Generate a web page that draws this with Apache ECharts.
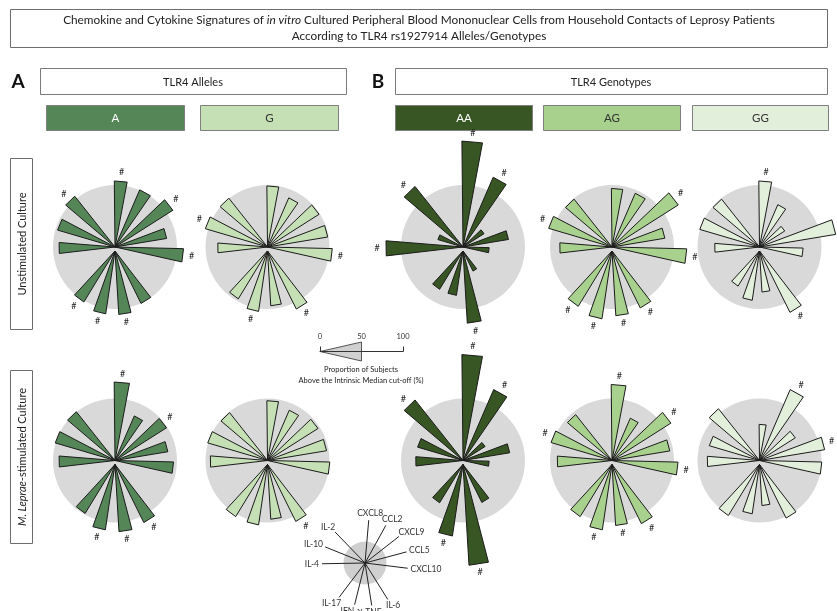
<!DOCTYPE html>
<html>
<head>
<meta charset="utf-8">
<script src="https://cdn.jsdelivr.net/npm/echarts@6/dist/echarts.min.js"></script>
<style>
  html, body { margin: 0; padding: 0; background: #ffffff; }
  #chart { width: 837px; height: 611px; }
</style>
</head>
<body>
<div id="chart"></div>
<script>
// Chemokines (upper-right) and cytokines (lower / left), clockwise from the top
const markers = ['CXCL8', 'CCL2', 'CXCL9', 'CCL5', 'CXCL10', 'IL-6', 'TNF', 'IFN-γ', 'IL-17', 'IL-4', 'IL-10', 'IL-2'];
const markerAngles = [5, 29, 52, 75, 97, 148, 171, 194, 217, 269, 292, 316];
const lowerGroup = ['IL-6', 'TNF', 'IFN-γ', 'IL-17'];

// Proportion of subjects above the intrinsic median cut-off (%)
const unstimA  = [53, 50, 55, 42, 55, 47, 51, 51, 48, 45, 48, 52];
const unstimG  = [49, 43, 49, 49, 52, 52, 44, 49, 45, 40, 52, 50];
const unstimAA = [85, 61, 20, 37, 21, 18, 58, 36, 36, 62, 21, 62];
const unstimAG = [47, 47, 63, 43, 60, 51, 52, 55, 52, 42, 53, 49];
const unstimGG = [53, 37, 24, 62, 35, 55, 33, 40, 33, 36, 50, 49];
const stimA    = [63, 39, 49, 43, 47, 52, 54, 53, 46, 45, 50, 50];
const stimG    = [48, 44, 48, 48, 50, 51, 44, 49, 49, 46, 50, 49];
const stimAA   = [85, 62, 21, 38, 21, 34, 81, 58, 36, 38, 38, 62];
const stimAG   = [61, 37, 56, 47, 53, 53, 49, 53, 49, 44, 51, 47];
const stimGG   = [29, 62, 34, 53, 50, 48, 33, 40, 48, 42, 42, 53];

// Significance flags (#), one per marker
const unstimAFlag  = [1, 0, 1, 0, 1, 0, 1, 1, 1, 0, 0, 1];
const unstimGFlag  = [0, 0, 0, 0, 1, 1, 0, 1, 0, 0, 1, 0];
const unstimAAFlag = [1, 1, 0, 0, 0, 0, 1, 0, 0, 1, 0, 1];
const unstimAGFlag = [0, 0, 1, 0, 1, 1, 1, 1, 1, 0, 1, 0];
const unstimGGFlag = [1, 0, 0, 0, 0, 1, 0, 0, 0, 0, 0, 0];
const stimAFlag    = [1, 0, 1, 0, 0, 1, 1, 1, 0, 0, 0, 0];
const stimGFlag    = [0, 0, 0, 0, 0, 1, 0, 0, 0, 0, 0, 0];
const stimAAFlag   = [1, 1, 0, 0, 0, 0, 1, 1, 0, 0, 0, 1];
const stimAGFlag   = [1, 0, 1, 0, 1, 1, 1, 1, 0, 0, 1, 0];
const stimGGFlag   = [0, 1, 0, 1, 0, 0, 0, 0, 0, 0, 0, 0];

const groups = ['A', 'G', 'AA', 'AG', 'GG'];
const groupColors = ['#548658', '#c5e0b4', '#375623', '#a9d18e', '#e2efda'];
const groupText = ['#ffffff', '#333333', '#ffffff', '#333333', '#333333'];

const scaleTicks = [0, 50, 100];
const scaleWedge = 50;

const FONT = 'Lato, "Open Sans", sans-serif';
const colX = [115, 267.5, 463, 612, 759.5];
const rowY = [247, 460.5];
const RING = 124;          // pixel radius of 100 %
const HALF = 5.6;          // half opening of each wedge (deg)

const panels = [
  [unstimA, unstimAFlag], [unstimG, unstimGFlag], [unstimAA, unstimAAFlag], [unstimAG, unstimAGFlag], [unstimGG, unstimGGFlag],
  [stimA, stimAFlag], [stimG, stimGFlag], [stimAA, stimAAFlag], [stimAG, stimAGFlag], [stimGG, stimGGFlag]
];

const polar = [], angleAxis = [], radiusAxis = [], series = [];

function wedgeRenderer(color) {
  return function (params, api) {
    const v = api.value(0), a = api.value(1), f = api.value(2);
    const c = api.coord([0, a]);
    const rr = v / Math.cos(HALF * Math.PI / 180);
    const p1 = api.coord([rr, a - HALF]);
    const p2 = api.coord([rr, a + HALF]);
    const e = api.coord([v, a]);
    const children = [{
      type: 'polygon',
      shape: { points: [c, p1, p2] },
      style: { fill: color, stroke: '#1b1b1b', lineWidth: 1, lineJoin: 'miter' }
    }];
    if (f) {
      const dx = e[0] - c[0], dy = e[1] - c[1];
      const len = Math.sqrt(dx * dx + dy * dy) || 1;
      children.push({
        type: 'text',
        style: {
          x: e[0] + dx / len * 9, y: e[1] + dy / len * 9,
          text: '#', fill: '#222', font: '9px ' + FONT,
          align: 'center', verticalAlign: 'middle'
        }
      });
    }
    return { type: 'group', children: children };
  };
}

panels.forEach(function (p, i) {
  const col = i % 5, row = Math.floor(i / 5);
  const cx = colX[col], cy = rowY[row];
  const values = p[0], flags = p[1];
  [0, 1].forEach(function (part) {
    const k = polar.length;
    polar.push({ center: [cx, cy + (part ? 4 : 0)], radius: RING });
    angleAxis.push({ polarIndex: k, type: 'value', min: 0, max: 360, startAngle: 90, clockwise: true, show: false });
    radiusAxis.push({
      polarIndex: k, type: 'value', min: 0, max: 100, interval: 50,
      axisLine: { show: false }, axisTick: { show: false }, axisLabel: { show: false },
      splitLine: { show: false },
      splitArea: { show: part === 0, areaStyle: { color: ['#d9d9d9', 'rgba(0,0,0,0)'] } }
    });
    const data = [];
    markers.forEach(function (m, j) {
      const inLower = lowerGroup.indexOf(m) >= 0;
      if ((part === 1) === inLower) data.push([values[j], markerAngles[j], flags[j], m]);
    });
    series.push({
      type: 'custom', coordinateSystem: 'polar', polarIndex: k,
      renderItem: wedgeRenderer(groupColors[col]),
      data: data, silent: true, z: 2 + part
    });
  });
});

// Key glyph of marker directions
const measureCtx = document.createElement('canvas').getContext('2d');
const KEY_FONT = '8.5px ' + FONT;
measureCtx.font = KEY_FONT;
const keyIndex = polar.length;
polar.push({ center: [365, 563], radius: 43 });
angleAxis.push({ polarIndex: keyIndex, type: 'value', min: 0, max: 360, startAngle: 90, clockwise: true, show: false });
radiusAxis.push({
  polarIndex: keyIndex, type: 'value', min: 0, max: 100, interval: 50,
  axisLine: { show: false }, axisTick: { show: false }, axisLabel: { show: false }, splitLine: { show: false },
  splitArea: { show: true, areaStyle: { color: ['#cfcfcf', 'rgba(0,0,0,0)'] } }
});
series.push({
  type: 'custom', coordinateSystem: 'polar', polarIndex: keyIndex, silent: true,
  data: markers.map(function (m, j) { return [100, markerAngles[j]]; }),
  renderItem: function (params, api) {
    const a = api.value(1);
    const c = api.coord([0, a]);
    const e = api.coord([api.value(0), a]);
    const dx = e[0] - c[0], dy = e[1] - c[1];
    const len = Math.sqrt(dx * dx + dy * dy) || 1;
    const ux = dx / len, uy = dy / len;
    const txt = markers[params.dataIndex];
    const w = measureCtx.measureText(txt).width, h = 8;
    const gap = 3;
    return {
      type: 'group', children: [
        { type: 'line', shape: { x1: c[0], y1: c[1], x2: e[0], y2: e[1] }, style: { stroke: '#222', lineWidth: 1 } },
        { type: 'text', style: {
            x: e[0] + ux * (gap + w / 2), y: e[1] + uy * (gap + h / 2),
            text: txt, fill: '#333', font: KEY_FONT, align: 'center', verticalAlign: 'middle' } }
      ]
    };
  }
});

// Scale key (0-50-100 %)
series.push({
  type: 'custom', coordinateSystem: 'cartesian2d', silent: true, z: 1,
  data: [[scaleWedge]],
  renderItem: function (params, api) {
    const v = api.value(0);
    return {
      type: 'polygon',
      shape: { points: [api.coord([0, 0]), api.coord([v, 1]), api.coord([v, -1])] },
      style: { fill: '#d0d0d0', stroke: '#555', lineWidth: 1 }
    };
  }
});

const graphics = [];
function box(x, y, w, h, stroke, fill) {
  graphics.push({ type: 'rect', shape: { x: x, y: y, width: w, height: h }, style: { fill: fill || '#fff', stroke: stroke, lineWidth: 1 }, silent: true });
}
function label(x, y, text, size, opts) {
  graphics.push(Object.assign({
    type: 'text', x: x, y: y, silent: true,
    style: { text: text, font: size + 'px ' + FONT, fill: '#222', align: 'center', verticalAlign: 'middle' }
  }, opts || {}));
}

box(10.5, 9.5, 817, 38, '#6d6d6d');
graphics.push({
  type: 'text', x: 419, y: 20.5, silent: true,
  style: {
    rich: { n: { font: '11.8px ' + FONT, fill: '#222' }, i: { font: 'italic 11.8px ' + FONT, fill: '#222' } },
    text: '{n|Chemokine and Cytokine Signatures of }{i|in vitro}{n| Cultured Peripheral Blood Mononuclear Cells from Household Contacts of Leprosy Patients}',
    align: 'center', verticalAlign: 'middle'
  }
});
label(419, 36.5, 'According to TLR4 rs1927914 Alleles/Genotypes', 11.8);

label(18, 82, 'A', 19, { style: { text: 'A', font: 'bold 19px ' + FONT, fill: '#111', align: 'center', verticalAlign: 'middle' } });
label(378, 82, 'B', 19, { style: { text: 'B', font: 'bold 19px ' + FONT, fill: '#111', align: 'center', verticalAlign: 'middle' } });
box(40.5, 68.5, 306, 26, '#7a7a7a');
label(193, 82, 'TLR4 Alleles', 11);
box(395.5, 68.5, 432, 26, '#7a7a7a');
label(611, 82, 'TLR4 Genotypes', 11);

const headerX = [46, 200, 395, 543, 692];
const headerW = [138, 138, 137, 137, 136];
groups.forEach(function (g, i) {
  box(headerX[i] + 0.5, 105.5, headerW[i], 25, '#7f7f7f', groupColors[i]);
  label(headerX[i] + headerW[i] / 2 + 0.5, 118, g, 11.5, {
    style: { text: g, font: '11.5px ' + FONT, fill: groupText[i], align: 'center', verticalAlign: 'middle' }
  });
});

box(10.5, 158.5, 22, 171, '#6d6d6d');
graphics.push({
  type: 'text', x: 22, y: 244, rotation: Math.PI / 2, silent: true,
  style: { text: 'Unstimulated Culture', font: '11px ' + FONT, fill: '#222', align: 'center', verticalAlign: 'middle' }
});
box(10.5, 370.5, 22, 173, '#6d6d6d');
graphics.push({
  type: 'text', x: 22, y: 457, rotation: Math.PI / 2, silent: true,
  style: {
    rich: { i: { font: 'italic 11px ' + FONT, fill: '#222' }, n: { font: '11px ' + FONT, fill: '#222' } },
    text: '{i|M. Leprae}{n|-stimulated Culture}', align: 'center', verticalAlign: 'middle'
  }
});

label(361, 370, 'Proportion of Subjects', 7.5);
label(361, 381, 'Above the Intrinsic Median cut-off (%)', 7.5);

const option = {
  animation: false,
  backgroundColor: '#ffffff',
  polar: polar,
  angleAxis: angleAxis,
  radiusAxis: radiusAxis,
  grid: { left: 320, top: 342, width: 83, height: 19 },
  xAxis: {
    type: 'value', min: 0, max: 100, interval: 50, position: 'top', offset: -9.5, z: 5,
    axisLine: { onZero: false, lineStyle: { color: '#333', width: 1 } },
    axisTick: { show: true, customValues: [0, 100], length: 5, lineStyle: { color: '#333' } },
    axisLabel: { customValues: scaleTicks, margin: 11, fontSize: 7.5, color: '#333', fontFamily: FONT },
    splitLine: { show: false }
  },
  yAxis: { type: 'value', min: -1, max: 1, show: false },
  series: series,
  graphic: graphics
};

const chart = echarts.init(document.getElementById('chart'), null, { renderer: 'canvas' });
chart.setOption(option);
</script>
</body>
</html>
